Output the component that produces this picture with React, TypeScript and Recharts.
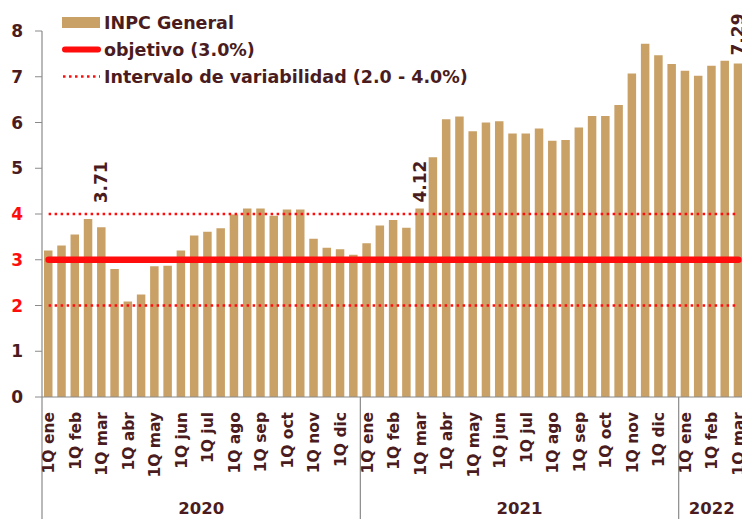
import React from 'react';
import { ComposedChart, Bar, Line, XAxis, YAxis, Legend, LabelList } from 'recharts';

// ---- data ----
const MONTHS = ['ene', 'feb', 'mar', 'abr', 'may', 'jun', 'jul', 'ago', 'sep', 'oct', 'nov', 'dic'];
const YEARS = [2020, 2021, 2022];
const inpc2020 = [3.20, 3.31, 3.55, 3.89, 3.71, 2.80, 2.09, 2.24, 2.86, 2.87, 3.20, 3.53, 3.61, 3.69, 3.99, 4.12, 4.12, 3.96, 4.10, 4.10, 3.46, 3.26, 3.23, 3.11];
const inpc2021 = [3.36, 3.75, 3.87, 3.70, 4.12, 5.24, 6.07, 6.13, 5.81, 6.00, 6.03, 5.76, 5.76, 5.87, 5.60, 5.62, 5.89, 6.14, 6.14, 6.38, 7.07, 7.72, 7.47, 7.28];
const inpc2022 = [7.13, 7.02, 7.24, 7.35, 7.29];
const seriesByYear = [inpc2020, inpc2021, inpc2022];
const OBJETIVO = 3.0;
const INTERVALO_BAJO = 2.0;
const INTERVALO_ALTO = 4.0;
const Y_TICKS = [0, 1, 2, 3, 4, 5, 6, 7, 8];
const RED_TICKS = [2, 3, 4];
const LABELED = ['1Q mar 2020', '1Q mar 2021', '1Q mar 2022'];
const LABEL_LIFT: Record<string, number> = { '1Q mar 2020': 24, '1Q mar 2021': 6, '1Q mar 2022': 8 };
const LEGEND_ORDER = ['inpc', 'objetivo', 'hi'];

// ---- build table ----
type Row = { key: string; label: string; year: number; idx: number; inpc: number; objetivo: number; lo: number; hi: number; lbl: string | null };
const rows: Row[] = [];
const groups: { year: number; start: number; count: number }[] = [];
YEARS.forEach((year, yi) => {
  const vals = seriesByYear[yi];
  groups.push({ year, start: rows.length, count: vals.length });
  vals.forEach((v, j) => {
    const label = `${j % 2 === 0 ? '1Q' : '2Q'} ${MONTHS[Math.floor(j / 2)]}`;
    const key = `${label} ${year}`;
    rows.push({
      key, label, year, idx: rows.length, inpc: v,
      objetivo: OBJETIVO, lo: INTERVALO_BAJO, hi: INTERVALO_ALTO,
      lbl: LABELED.includes(key) ? v.toFixed(2) : null,
    });
  });
});
const N = rows.length;
const labelTicks = rows.filter((r) => r.label.startsWith('1Q')).map((r) => r.idx);
const sepTicks = groups.map((g) => g.start - 0.5);
const yearCenters = groups.map((g) => ({ year: g.year, pos: g.start - 0.5 + g.count / 2 }));
const allTicks = Array.from(new Set([...sepTicks, ...labelTicks, ...yearCenters.map((c) => c.pos)])).sort((a, b) => a - b);

// ---- style ----
const FONT = '"DejaVu Sans", sans-serif';
const DARK = '#4a1c20';
const RED = '#ff0d0d';
const TAN = '#c9a167';
const GRAY = '#8a8a8a';
const CHART_H = 519;
const X_AXIS_H = 122;
const AXIS_Y = CHART_H - X_AXIS_H; // bottom of plot area

const XTick = (props: any) => {
  const { x, payload } = props;
  const y = AXIS_Y;
  const v = payload.value as number;
  const out: React.ReactNode[] = [];
  if (sepTicks.includes(v)) {
    out.push(<line key="s" x1={x} x2={x} y1={y} y2={CHART_H} stroke={GRAY} strokeWidth={1.2} />);
  }
  if (labelTicks.includes(v)) {
    const ty = y + 15;
    out.push(
      <text key="l" x={x} y={ty} transform={`rotate(-90 ${x} ${ty})`} textAnchor="end" dy="0.36em"
        fill={DARK} fontFamily={FONT} fontWeight="bold" fontSize={15.5}>
        {rows[v].label}
      </text>
    );
  }
  const yc = yearCenters.find((c) => c.pos === v);
  if (yc) {
    out.push(
      <text key="y" x={x} y={y + 111} textAnchor="middle" dy="0.36em" fill={DARK} fontFamily={FONT} fontWeight="bold" fontSize={16.5}>
        {yc.year}
      </text>
    );
  }
  return <g>{out}</g>;
};

const YTick = (props: any) => {
  const { x, y, payload } = props;
  return (
    <text x={x} y={y} dy="0.36em" textAnchor="end" fill={RED_TICKS.includes(payload.value) ? RED : DARK}
      fontFamily={FONT} fontWeight="bold" fontSize={17}>
      {payload.value}
    </text>
  );
};

const DataLabel = (props: any) => {
  const { x, y, width, value, index } = props;
  if (value == null) return null;
  const cx = x + width / 2;
  const ty = y - (LABEL_LIFT[rows[index].key] ?? 6);
  return (
    <text x={cx} y={ty} transform={`rotate(-90 ${cx} ${ty})`} textAnchor="start" dy="0.36em"
      fill={DARK} fontFamily={FONT} fontWeight="bold" fontSize={17}>
      {value}
    </text>
  );
};

const LegendContent = (props: any) => {
  const payload = (props.payload || [])
    .filter((e: any) => LEGEND_ORDER.includes(e.dataKey))
    .sort((a: any, b: any) => LEGEND_ORDER.indexOf(a.dataKey) - LEGEND_ORDER.indexOf(b.dataKey));
  return (
    <div style={{ display: 'flex', flexDirection: 'column' }}>
      {payload.map((e: any) => (
        <div key={e.dataKey} style={{ height: 27, display: 'flex', alignItems: 'center' }}>
          <svg width={40} height={27} style={{ display: 'block' }}>
            {e.dataKey === 'inpc' && <rect x={0} y={8} width={38} height={11} fill={TAN} />}
            {e.dataKey === 'objetivo' && <line x1={3} x2={36} y1={13.5} y2={13.5} stroke={RED} strokeWidth={6} strokeLinecap="round" />}
            {e.dataKey === 'hi' && <line x1={1} x2={38} y1={13.5} y2={13.5} stroke={RED} strokeWidth={2.5} strokeDasharray="2.5 3.5" />}
          </svg>
          <span style={{ marginLeft: 2, color: DARK, fontFamily: FONT, fontWeight: 'bold', fontSize: 17.5, whiteSpace: 'nowrap' }}>
            {e.value}
          </span>
        </div>
      ))}
    </div>
  );
};

export default function App() {
  return (
    <div style={{ position: 'fixed', left: 0, top: 0, width: 742, height: 519, overflow: 'hidden', background: '#fff' }}>
      <ComposedChart width={760} height={CHART_H} data={rows} margin={{ top: 31, right: 15, bottom: 0, left: 0 }}>
        <XAxis xAxisId="cat" dataKey="key" type="category" hide height={0} />
        <XAxis xAxisId="num" dataKey="idx" type="number" domain={[-0.5, N - 0.5]} allowDataOverflow
          ticks={allTicks} interval={0} tick={<XTick />} tickLine={false} tickSize={0} tickMargin={0}
          axisLine={{ stroke: GRAY, strokeWidth: 1.2 }} height={X_AXIS_H} />
        <YAxis domain={[0, 8]} ticks={Y_TICKS} width={42} tick={<YTick />} tickSize={7} tickMargin={12}
          tickLine={{ stroke: GRAY }} axisLine={{ stroke: GRAY, strokeWidth: 1.2 }} allowDataOverflow />
        <Legend layout="horizontal" verticalAlign="middle" align="center" content={<LegendContent />}
          wrapperStyle={{ top: 9, left: 62, width: 460 }} />
        <Bar xAxisId="cat" dataKey="inpc" name="INPC General" fill={TAN} barSize={8.5} isAnimationActive={false}>
          <LabelList dataKey="lbl" content={<DataLabel />} />
        </Bar>
        <Line xAxisId="cat" dataKey="objetivo" name="objetivo (3.0%)" stroke={RED} strokeWidth={6.5} strokeLinecap="round"
          dot={false} activeDot={false} isAnimationActive={false} />
        <Line xAxisId="cat" dataKey="hi" name="Intervalo de variabilidad (2.0 - 4.0%)" stroke={RED} strokeWidth={2.5}
          strokeDasharray="2.5 3.5" dot={false} activeDot={false} isAnimationActive={false} />
        <Line xAxisId="cat" dataKey="lo" name="Intervalo bajo" legendType="none" stroke={RED} strokeWidth={2.5}
          strokeDasharray="2.5 3.5" dot={false} activeDot={false} isAnimationActive={false} />
      </ComposedChart>
    </div>
  );
}
